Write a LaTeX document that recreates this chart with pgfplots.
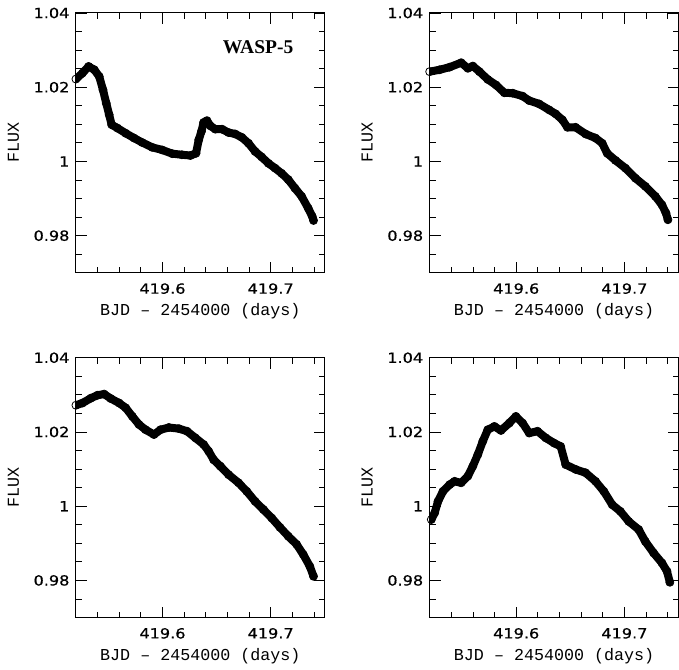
\documentclass[border=0pt]{standalone}
\usepackage{fontspec}
\usepackage{pgfplots}
\usepackage{pgfplotstable}
\pgfplotsset{compat=1.18}
\usepgfplotslibrary{groupplots}

\newfontfamily\tickfont[FakeStretch=1.15, FakeBold=0.6]{DejaVu Sans}
\newfontfamily\labfont{Liberation Mono}
\newfontfamily\titlefont{Liberation Serif}

% light curves, one table per panel (BJD - 2454000, relative flux)
\pgfplotstableread{
x y
419.5200 1.0222
419.5260 1.0238
419.5317 1.0256
419.5370 1.0247
419.5415 1.0229
419.5450 1.0193
419.5480 1.0157
419.5507 1.0126
419.5530 1.0099
419.5583 1.0090
419.5660 1.0076
419.5737 1.0063
419.5813 1.0051
419.5905 1.0038
419.5997 1.0031
419.6090 1.0021
419.6180 1.0018
419.6258 1.0016
419.6310 1.0022
419.6335 1.0058
419.6360 1.0081
419.6380 1.0105
419.6411 1.0110
419.6442 1.0096
419.6488 1.0087
419.6550 1.0087
419.6610 1.0078
419.6672 1.0074
419.6733 1.0065
419.6795 1.0049
419.6856 1.0027
419.6917 1.0012
419.6979 0.9995
419.7040 0.9982
419.7101 0.9968
419.7163 0.9951
419.7224 0.9928
419.7286 0.9906
419.7347 0.9874
419.7384 0.9852
419.7396 0.9841
}\lcA

\pgfplotstableread{
x y
419.5200 1.0242
419.5292 1.0247
419.5384 1.0254
419.5491 1.0266
419.5553 1.0251
419.5599 1.0257
419.5660 1.0242
419.5737 1.0221
419.5813 1.0206
419.5890 1.0185
419.5967 1.0184
419.6059 1.0176
419.6120 1.0164
419.6212 1.0155
419.6304 1.0139
419.6365 1.0128
419.6427 1.0112
419.6473 1.0092
419.6549 1.0092
419.6641 1.0074
419.6733 1.0063
419.6795 1.0049
419.6841 1.0022
419.6917 1.0003
419.7009 0.9982
419.7101 0.9955
419.7193 0.9933
419.7286 0.9906
419.7347 0.9883
419.7384 0.9861
419.7402 0.9843
}\lcB

\pgfplotstableread{
x y
419.5200 1.0272
419.5261 1.0278
419.5338 1.0291
419.5399 1.0299
419.5461 1.0302
419.5522 1.0290
419.5599 1.0278
419.5660 1.0265
419.5721 1.0242
419.5783 1.0220
419.5844 1.0206
419.5921 1.0193
419.5982 1.0206
419.6059 1.0212
419.6151 1.0209
419.6227 1.0202
419.6304 1.0184
419.6381 1.0166
419.6427 1.0148
419.6473 1.0125
419.6534 1.0108
419.6611 1.0085
419.6703 1.0063
419.6779 1.0040
419.6856 1.0013
419.6933 0.9991
419.7010 0.9968
419.7086 0.9943
419.7163 0.9919
419.7240 0.9897
419.7301 0.9870
419.7362 0.9838
419.7396 0.9811
}\lcC

\pgfplotstableread{
x y
419.5215 0.9964
419.5246 0.9982
419.5277 1.0013
419.5323 1.0040
419.5384 1.0058
419.5430 1.0067
419.5491 1.0063
419.5553 1.0081
419.5599 1.0108
419.5645 1.0139
419.5691 1.0175
419.5737 1.0206
419.5798 1.0215
419.5859 1.0204
419.5936 1.0224
419.5997 1.0242
419.6059 1.0224
419.6120 1.0197
419.6197 1.0202
419.6273 1.0184
419.6350 1.0170
419.6411 1.0161
419.6457 1.0112
419.6550 1.0099
419.6641 1.0090
419.6733 1.0067
419.6810 1.0040
419.6887 1.0004
419.6963 0.9986
419.7040 0.9959
419.7132 0.9937
419.7193 0.9905
419.7270 0.9874
419.7347 0.9847
419.7393 0.9825
419.7420 0.9795
}\lcD

\pgfplotsset{
  lc/.style={black, line width=8pt, line join=round, line cap=round,
    mark=o, mark size=4pt, mark options={line width=0.8pt, solid}},
}

\begin{document}
\begin{tikzpicture}
\begin{groupplot}[
    group style={group size=2 by 2, horizontal sep=105pt, vertical sep=85pt, group name=grp},
    scale only axis,
    width=249pt, height=260pt,
    xmin=419.52, xmax=419.75,
    ymin=0.97, ymax=1.04,
    xtick={419.6,419.7},
    minor xtick={419.54,419.56,419.58,419.62,419.64,419.66,419.68,419.72,419.74},
    ytick={0.98,1,1.02,1.04},
    minor ytick={0.975,0.985,0.99,0.995,1.005,1.01,1.015,1.025,1.03,1.035},
    scaled x ticks=false,
    xticklabel style={yshift=-7pt, /pgf/number format/.cd, fixed, precision=1, assume math mode=true},
    yticklabel style={xshift=-3pt, /pgf/number format/.cd, fixed, precision=2, assume math mode=true},
    tick pos=both, tick align=inside,
    major tick length=11pt, minor tick length=6pt,
    tick style={black, line width=0.8pt},
    axis line style={line width=1pt},
    ticklabel style={font=\tickfont\fontsize{14}{16}\selectfont},
    xlabel={BJD – 2454000 (days)},
    ylabel={FLUX},
    label style={font=\labfont\fontsize{16.7}{18}\selectfont},
    xlabel style={at={(axis description cs:0.5,-0.148)}, anchor=center},
    ylabel style={at={(axis description cs:-0.251,0.5)}, anchor=center},
    clip=true,
]
\nextgroupplot
\addplot[lc] table[x=x,y=y] {\lcA};
\node[font=\titlefont\bfseries\fontsize{19.5}{21}\selectfont] at (axis description cs:0.732,0.867) {WASP-5};
\nextgroupplot
\addplot[lc] table[x=x,y=y] {\lcB};
\nextgroupplot
\addplot[lc] table[x=x,y=y] {\lcC};
\nextgroupplot
\addplot[lc] table[x=x,y=y] {\lcD};
\end{groupplot}
\path ([xshift=-76pt,yshift=13pt]grp c1r1.north west) rectangle ([yshift=-52pt]grp c2r2.south east);
\end{tikzpicture}
\end{document}
